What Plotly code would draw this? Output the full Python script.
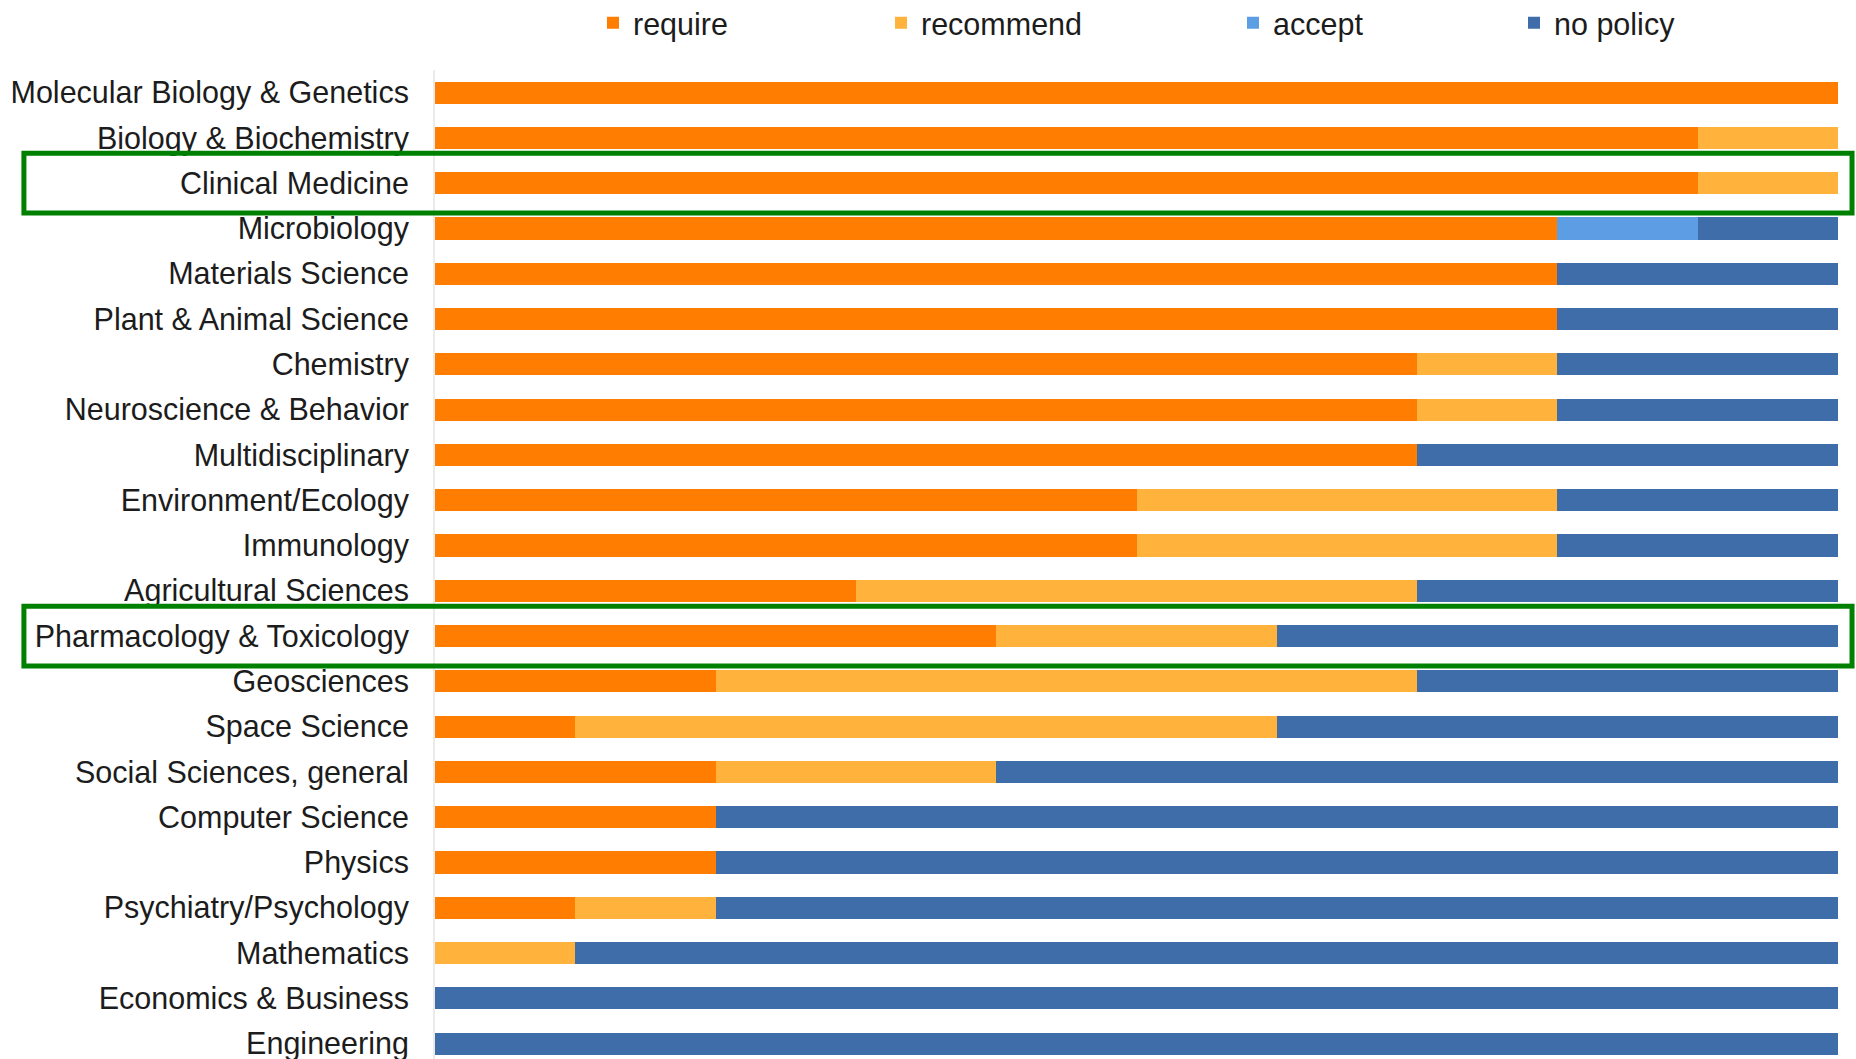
import plotly.graph_objects as go

# Research fields, top to bottom
fields = [
    "Molecular Biology & Genetics", "Biology & Biochemistry", "Clinical Medicine",
    "Microbiology", "Materials Science", "Plant & Animal Science", "Chemistry",
    "Neuroscience & Behavior", "Multidisciplinary", "Environment/Ecology",
    "Immunology", "Agricultural Sciences", "Pharmacology & Toxicology",
    "Geosciences", "Space Science", "Social Sciences, general",
    "Computer Science", "Physics", "Psychiatry/Psychology", "Mathematics",
    "Economics & Business", "Engineering",
]

# Share of journals (%) per data-sharing policy
require = [100, 90, 90, 80, 80, 80, 70, 70, 70, 50, 50, 30, 40, 20, 10, 20, 20, 20, 10, 0, 0, 0]
recommend = [0, 10, 10, 0, 0, 0, 10, 10, 0, 30, 30, 40, 20, 50, 50, 20, 0, 0, 10, 10, 0, 0]
accept = [0, 0, 0, 10, 0, 0, 0, 0, 0, 0, 0, 0, 0, 0, 0, 0, 0, 0, 0, 0, 0, 0]
no_policy = [0, 0, 0, 10, 20, 20, 20, 20, 30, 20, 20, 30, 40, 30, 40, 60, 80, 80, 80, 90, 100, 100]

# Fields outlined with a frame
highlighted = ["Clinical Medicine", "Pharmacology & Toxicology"]

series = [
    ("require", require, "#FF7D00"),
    ("recommend", recommend, "#FFB23C"),
    ("accept", accept, "#5C9DE4"),
    ("no policy", no_policy, "#3E6DA9"),
]

W, H = 1856, 1059
FONT = "Liberation Sans, Arial, Helvetica, sans-serif"
TEXT = "#1c1c1c"
SIZE = 30.5

# category axis runs top (-0.5) to slightly past the last row at the bottom
Y_TOP, Y_BOTTOM = -0.5, 21.34

legend_names = ["legend", "legend2", "legend3", "legend4"]
legend_x = [593, 881, 1233, 1514]  # left edge of each legend entry (px)

fig = go.Figure()
for (name, vals, color), lg in zip(series, legend_names):
    fig.add_trace(go.Bar(
        y=fields, x=vals, name=name, orientation="h",
        marker=dict(color=color, line=dict(width=0)),
        legend=lg,
        hovertemplate="%{y}<br>" + name + ": %{x}%<extra></extra>",
    ))

legends = {}
for lg, px in zip(legend_names, legend_x):
    legends[lg] = dict(
        xref="container", yref="container",
        x=px / W, y=1 - 23 / H, xanchor="left", yanchor="middle",
        orientation="h", bgcolor="rgba(0,0,0,0)", borderwidth=0,
        font=dict(family=FONT, size=SIZE, color=TEXT),
    )


def y_paper(v):
    return (Y_BOTTOM - v) / (Y_BOTTOM - Y_TOP)


shapes = []
for f in highlighted:
    i = fields.index(f)
    shapes.append(dict(
        type="rect", xref="paper", yref="paper",
        x0=-0.293, x1=1.01, y0=y_paper(i + 0.66), y1=y_paper(i - 0.66),
        line=dict(color="#008000", width=5), fillcolor="rgba(0,0,0,0)",
        layer="above",
    ))

fig.update_layout(
    width=W, height=H,
    margin=dict(l=435, r=18, t=70, b=0, pad=0, autoexpand=False),
    barmode="stack", bargap=0.51,
    plot_bgcolor="white", paper_bgcolor="white",
    font=dict(family=FONT, size=SIZE, color=TEXT),
    showlegend=True,
    shapes=shapes,
    xaxis=dict(range=[0, 100], visible=False, fixedrange=True),
    yaxis=dict(
        type="category", categoryorder="array", categoryarray=fields,
        range=[Y_BOTTOM, Y_TOP], showgrid=False, zeroline=False,
        showline=True, linecolor="#EBEBEB", linewidth=2,
        ticks="", ticklabelstandoff=18, automargin=False,
        tickfont=dict(family=FONT, size=SIZE, color=TEXT),
    ),
    **legends,
)

fig.write_html("out.html")
